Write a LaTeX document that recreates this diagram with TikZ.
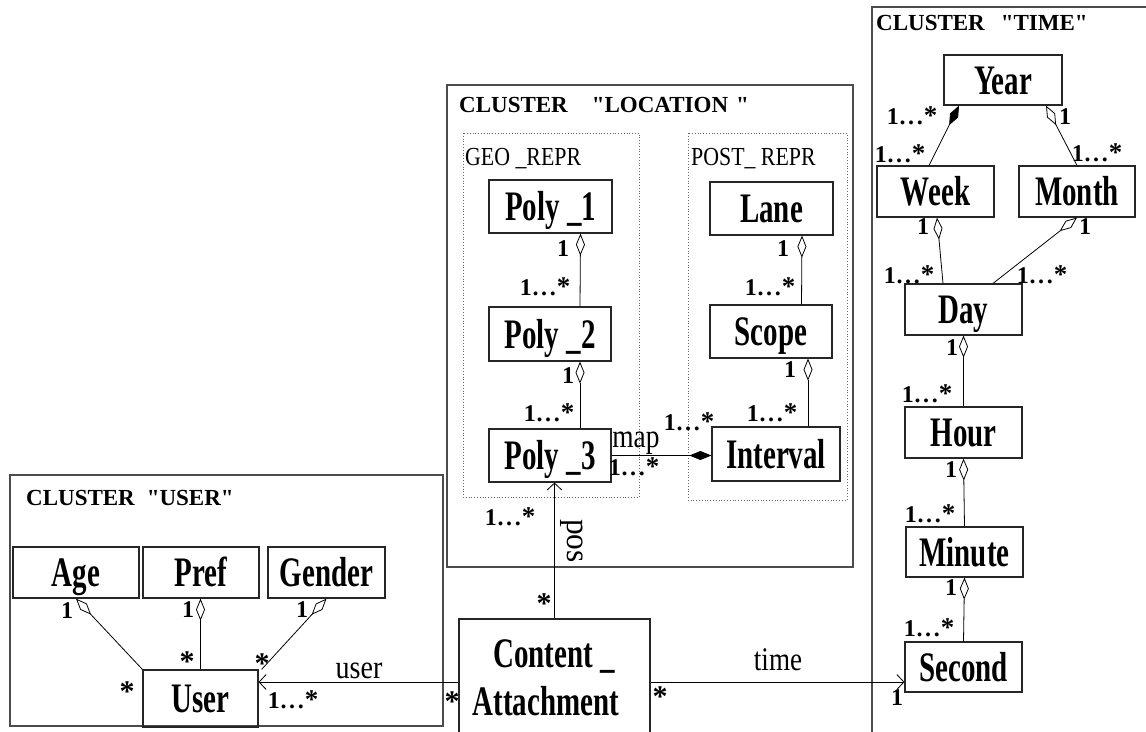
\documentclass[tikz,border=0pt]{standalone}
\usepackage{fontspec}
\setmainfont{Liberation Serif}
\newfontfamily\plainserif{Liberation Serif}
\usepackage{graphicx}
\usetikzlibrary{arrows.meta,calc}
\newcommand\bxt[1]{\scalebox{0.69}[1]{#1}}
\newcommand\mlt{1\kern1pt.\kern2.5pt.\kern2.5pt.\kern1pt{\fontsize{27}{27}\selectfont*}}
\newcommand\stR{{\fontsize{30}{30}\selectfont*}}
\tikzset{
  box/.style={draw=black!85, line width=1.2pt, inner sep=0pt,
    font=\fontsize{42}{44}\selectfont\bfseries, text height=28pt, text depth=0pt},
  boxtxt/.style={inner sep=0pt, font=\fontsize{42}{44}\selectfont\bfseries},
  cluster/.style={draw=black!70, line width=1.2pt},
  pkg/.style={draw=black!60, line width=0.8pt, dotted},
  ctitle/.style={inner sep=0pt, anchor=base west, font=\plainserif\fontsize{23}{23}\selectfont\bfseries},
  ptitle/.style={inner sep=0pt, anchor=base west, font=\fontsize{26}{26}\selectfont},
  mul/.style={inner sep=0pt, font=\fontsize{24}{24}\selectfont\bfseries},
  elab/.style={inner sep=0pt, font=\fontsize{33}{33}\selectfont},
  agg/.style={draw=black, line width=0.8pt, -{Diamond[open,length=22pt,width=9pt]}},
  comp/.style={draw=black, line width=0.8pt, -{Diamond[length=22pt,width=9pt]}},
  nav/.style={draw=black, line width=0.8pt, -{Straight Barb[length=7pt,width=15pt]}}
}
\begin{document}
\begin{tikzpicture}[x=1pt,y=-1pt]
\useasboundingbox (0,0) rectangle (1146,731);
\clip (0,0) rectangle (1146,731);
\fill[white] (0,0) rectangle (1146,731);

% clusters
\draw[cluster] (447,85) rectangle (853,567);
\draw[pkg] (463,133) rectangle (639,497);
\draw[pkg] (688,133) rectangle (847,500);
\draw[cluster] (10,475) rectangle (443,726);
\draw[cluster] (1150,7) -- (872,7) -- (872,740);

\node[ctitle] (tloc) at (459,112) {CLUSTER\hspace{24pt}"LOCATION\hspace{8pt}"};
\node[ctitle] (tuser) at (26,505) {CLUSTER\hspace{12pt}"USER"};
\node[ctitle] (ttime) at (876,30) {CLUSTER\hspace{16pt}"TIME"};
\node[ptitle] (tgeo) at (465,165) {\scalebox{0.84}[1]{GEO \_REPR}};
\node[ptitle] (tpost) at (691,165) {\scalebox{0.84}[1]{POST\_ REPR}};

% location boxes
\node[box, minimum width=123pt, minimum height=53pt] (poly1) at (550.5,206.5) {\bxt{Poly \_1}};
\node[box, minimum width=122pt, minimum height=54pt] (poly2) at (550,334) {\bxt{Poly \_2}};
\node[box, minimum width=122pt, minimum height=53pt] (poly3) at (550,455.5) {\bxt{Poly \_3}};
\node[box, minimum width=123pt, minimum height=53pt] (lane) at (771.5,208.5) {\bxt{Lane}};
\node[box, minimum width=122pt, minimum height=53pt] (scope) at (771,331.5) {\bxt{Scope}};
\node[box, minimum width=128pt, minimum height=54pt] (interval) at (776,454) {\bxt{Interval}};

% user boxes
\node[box, minimum width=126pt, minimum height=51pt] (age) at (76,572.5) {\bxt{Age}};
\node[box, minimum width=116pt, minimum height=51pt] (pref) at (201,572.5) {\bxt{Pref}};
\node[box, minimum width=117pt, minimum height=51pt] (gender) at (326.5,572.5) {\bxt{Gender}};
\node[box, minimum width=115pt, minimum height=57pt] (user) at (200.5,698.5) {\bxt{User}};

% content attachment
\node[box, minimum width=191pt, minimum height=126pt] (ca) at (554.5,682) {};
\node[boxtxt, anchor=base] (ca1) at (554,667) {\bxt{Content \_}};
\node[boxtxt, anchor=base] (ca2) at (546,715) {\bxt{Attachment}};

% time boxes
\node[box, minimum width=118pt, minimum height=50pt] (year) at (1003,80) {\bxt{Year}};
\node[box, minimum width=117pt, minimum height=51pt] (week) at (935.5,191.5) {\bxt{Week}};
\node[box, minimum width=116pt, minimum height=51pt] (month) at (1077,191.5) {\bxt{Month}};
\node[box, minimum width=117pt, minimum height=51pt] (day) at (963.5,309.5) {\bxt{Day}};
\node[box, minimum width=117pt, minimum height=51pt] (hour) at (963.5,432.5) {\bxt{Hour}};
\node[box, minimum width=117pt, minimum height=50pt] (minute) at (964.5,552) {\bxt{Minute}};
\node[box, minimum width=117pt, minimum height=50pt] (second) at (963.5,667) {\bxt{Second}};

% connectors: location
\draw[agg] ([xshift=30pt]poly2.north) -- ([xshift=30pt]poly1.south);
\draw[agg] ([xshift=30pt]poly3.north) -- ([xshift=30pt]poly2.south);
\draw[agg] ([xshift=30.5pt]scope.north) -- ([xshift=30.5pt]lane.south);
\draw[agg] ([xshift=32pt]interval.north) -- ([xshift=37pt]scope.south);
\draw[comp] (poly3.east) -- (poly3.east -| interval.west);
\draw[nav] (ca.north) -- (ca.north |- poly3.south);

% connectors: user
\draw[agg] (user.north west) -- (age.south);
\draw[agg] (user.north) -- (user.north |- pref.south);
\draw[agg] ([xshift=3pt]user.north east) -- (gender.south);
\draw[nav] (ca.west) -- (ca.west -| user.east);
\draw[nav] (ca.east) -- (ca.east -| second.west);

% connectors: time
\draw[comp] ([xshift=-6.5pt]week.north) -- ([xshift=-44pt]year.south);
\draw[agg] (month.north) -- ([xshift=43pt]year.south);
\draw[agg] ([xshift=-20.5pt]day.north) -- ([xshift=1.5pt]week.south);
\draw[agg] ([xshift=29.5pt]day.north) -- (month.south);
\draw[agg] (hour.north) -- (day.south);
\draw[agg] (minute.north) -- (hour.south);
\draw[agg] (second.north) -- (minute.south);

% labels location
\node[mul] (l1) at (563,249) {1};
\node[mul] (l2) at (545,287) {\mlt};
\node[mul] (l3) at (783,249) {1};
\node[mul] (l4) at (770,287) {\mlt};
\node[mul] (l5) at (568,376) {1};
\node[mul] (l6) at (549,413) {\mlt};
\node[mul] (l7) at (790,370) {1};
\node[mul] (l8) at (772,413) {\mlt};
\node[mul] (l9) at (689,422) {\mlt};
\node[mul] (l10) at (634,467) {\mlt};
\node[mul] (l11) at (510,517) {\mlt};
\node[elab, anchor=base] (lmap) at (636,447) {\scalebox{0.83}[1]{map}};
\node[elab, rotate=-90] (lpos) at (572,541) {\scalebox{0.95}[1]{pos}};

% labels user
\node[mul] (u1) at (67,611) {1};
\node[mul] (u2) at (127,692) {\stR};
\node[mul] (u3) at (188,610) {1};
\node[mul] (u4) at (187,662) {\stR};
\node[mul] (u5) at (302,610) {1};
\node[mul] (u6) at (262,664) {\stR};
\node[elab, anchor=base] (luser) at (359,678) {\scalebox{0.85}[1]{user}};
\node[mul] (u7) at (293,700) {\mlt};
\node[mul] (u8) at (452,702) {\stR};
\node[mul] (c1) at (544,604) {\stR};
\node[elab, anchor=base] (ltime) at (778,670) {\scalebox{0.82}[1]{time}};
\node[mul] (c2) at (660,697) {\stR};
\node[mul] (c3) at (897,698) {1};

% labels time
\node[mul] (t1) at (912,116) {\mlt};
\node[mul] (t2) at (900,154) {\mlt};
\node[mul] (t3) at (1065,117) {1};
\node[mul] (t4) at (1097,153) {\mlt};
\node[mul] (t5) at (923,227) {1};
\node[mul] (t6) at (909,275) {\mlt};
\node[mul] (t7) at (1085,227) {1};
\node[mul] (t8) at (1042,275) {\mlt};
\node[mul] (t9) at (952,348) {1};
\node[mul] (t10) at (927,394) {\mlt};
\node[mul] (t11) at (951,470) {1};
\node[mul] (t12) at (930,514) {\mlt};
\node[mul] (t13) at (951,588) {1};
\node[mul] (t14) at (929,628) {\mlt};
\end{tikzpicture}
\end{document}
